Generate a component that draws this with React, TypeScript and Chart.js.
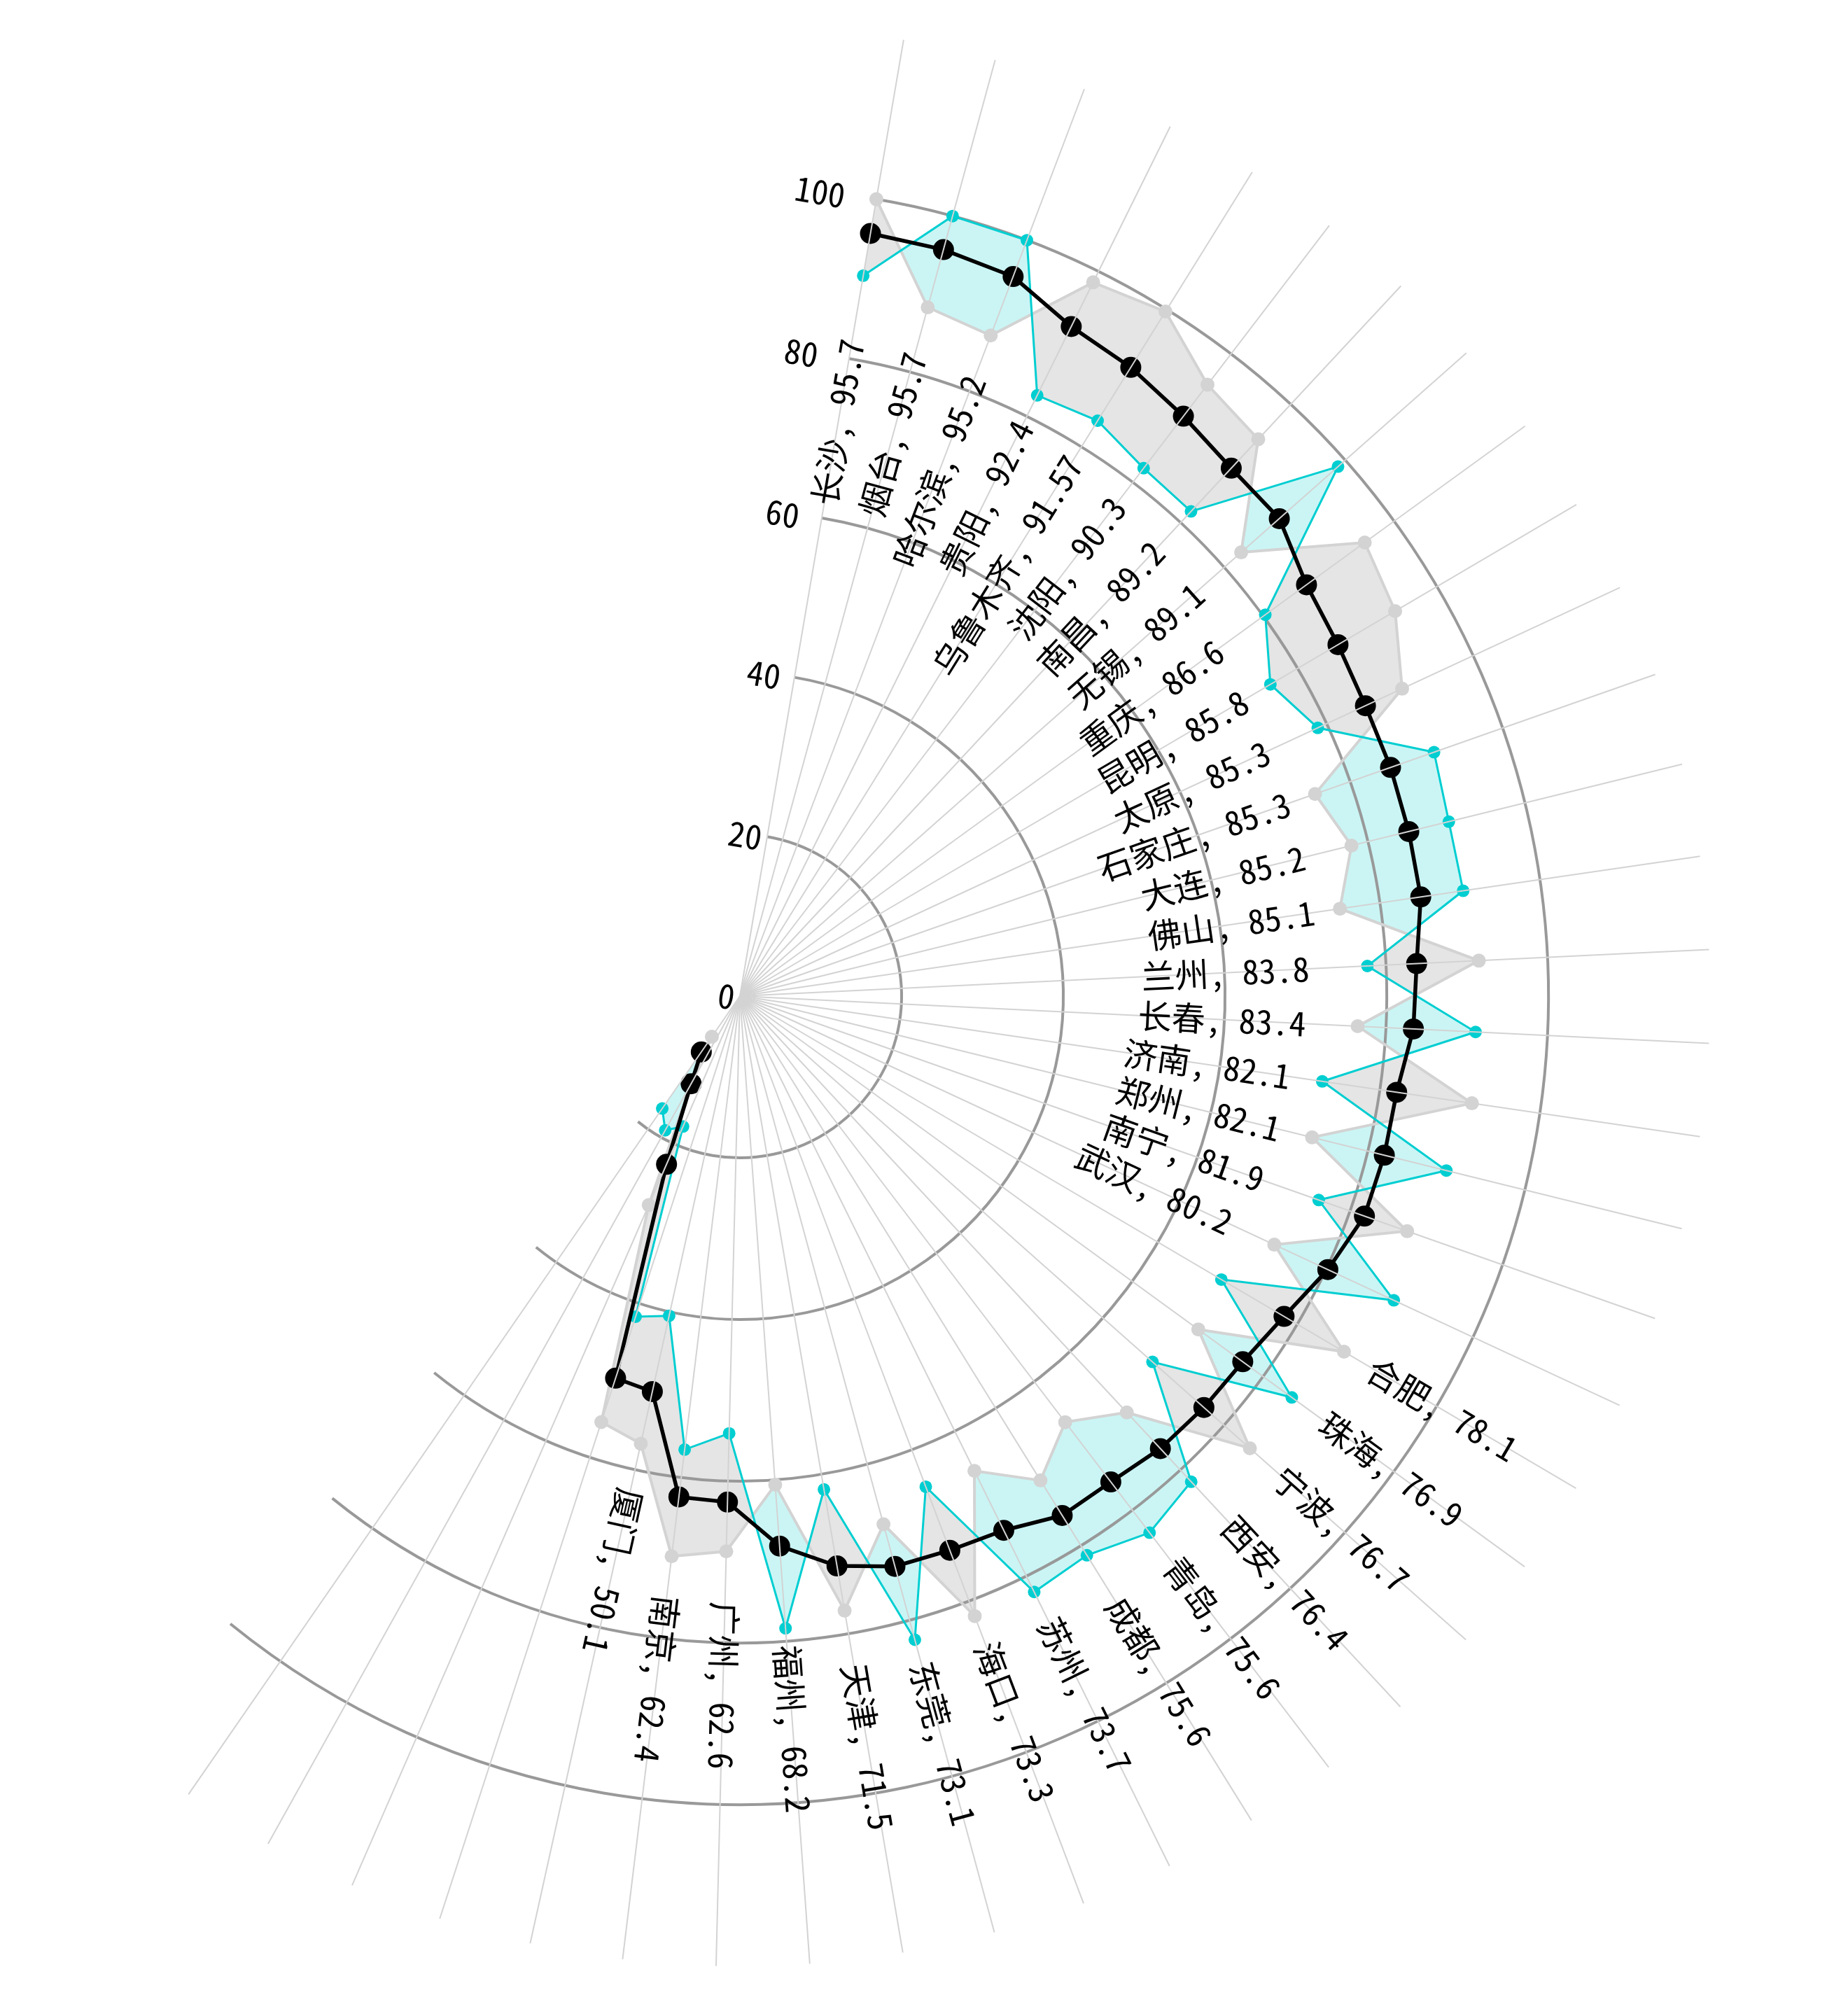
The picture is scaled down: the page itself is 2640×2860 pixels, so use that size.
import React, { useEffect, useRef } from 'react';
import { Chart, registerables } from 'chart.js';

Chart.register(...registerables);

// ---------- data ----------
const cities = [
  '长沙', '烟台', '哈尔滨', '贵阳', '乌鲁木齐', '沈阳', '南昌', '无锡', '重庆', '昆明',
  '太原', '石家庄', '大连', '佛山', '兰州', '长春', '济南', '郑州', '南宁', '武汉',
  '合肥', '珠海', '宁波', '西安', '青岛', '成都', '苏州', '海口', '东莞', '天津',
  '福州', '广州', '南京', '厦门',
];
// four trailing spokes carry points but no name
const unnamed = ['', '', '', ''];

const mainValues = [
  95.7, 95.7, 95.2, 92.4, 91.57, 90.3, 89.2, 89.1, 86.6, 85.8,
  85.3, 85.3, 85.2, 85.1, 83.8, 83.4, 82.1, 82.1, 81.9, 80.2,
  78.1, 76.9, 76.7, 76.4, 75.6, 75.6, 73.7, 73.3, 73.1, 71.5,
  68.2, 62.6, 62.4, 50.1, 49.7, 22.7, 12.4, 8.4,
];
const grayValues = [
  100, 88.3, 87.4, 98.5, 99.7, 95.2, 94.1, 82.8, 95.5, 94.0,
  90.3, 75.4, 77.9, 75.0, 91.5, 76.5, 91.5, 72.9, 87.5, 72.9,
  86.7, 70.1, 84.3, 70.3, 66.3, 70.5, 65.5, 82.0, 67.7, 77.1,
  60.6, 68.7, 69.8, 56.7, 55.4, 28.2, 12.5, 6.1,
];
const cyanValues = [
  90.4, 100, 100, 82.9, 83.8, 82.2, 81.9, 98.8, 80.3, 76.1,
  78.8, 91.0, 90.3, 90.4, 77.7, 91.1, 72.8, 90.0, 75.9, 89.2,
  69.1, 84.4, 68.2, 82.0, 83.5, 81.4, 82.2, 64.9, 82.5, 61.9,
  78.4, 54.1, 56.5, 40.5, 41.7, 17.6, 19.0, 16.9,
];
const radialTicks = [0, 20, 40, 60, 80, 100];

// ---------- layout / style ----------
const SLOT_COUNT = 65; // angular slots of the full circle
const START_ANGLE = 9.715; // degrees, clockwise from top
const ARC_STEPS = 37.8; // arcs span this many slots
const INNER_LABEL_COUNT = 20; // first labels sit inside the line
const GAP_IN = 13.3;
const GAP_OUT = 12.3;
const FONT = '"Noto Sans Mono CJK SC", "Noto Sans CJK SC", sans-serif';
const SIZE = 2772;

const MAIN = 0;
const CYAN = 1;
const GRAY = 2;

const pointCount = cities.length + unnamed.length;
const allLabels = [...cities, ...unnamed];
const slotLabels = [...allLabels, ...Array(SLOT_COUNT - allLabels.length).fill('')];
const pad = (arr: number[]) => [...arr, ...Array(SLOT_COUNT - arr.length).fill(null)];

const fillPlugin = {
  id: 'sectorFill',
  beforeDatasetsDraw(chart: any) {
    const scale = chart.scales.r;
    const ctx = chart.ctx;
    const cx = scale.xCenter;
    const cy = scale.yCenter;
    const gPts = chart.getDatasetMeta(GRAY).data.slice(0, pointCount);
    const cPts = chart.getDatasetMeta(CYAN).data.slice(0, pointCount);
    const star = (pts: any[]) => {
      const p = new Path2D();
      p.moveTo(cx, cy);
      pts.forEach((pt) => p.lineTo(pt.x, pt.y));
      p.closePath();
      return p;
    };
    const outside = (pts: any[]) => {
      const p = new Path2D();
      p.rect(-10, -10, chart.width + 20, chart.height + 20);
      p.moveTo(cx, cy);
      pts.forEach((pt) => p.lineTo(pt.x, pt.y));
      p.closePath();
      return p;
    };
    // area where the cyan series lies beyond the gray one
    ctx.save();
    ctx.clip(star(cPts));
    ctx.clip(outside(gPts), 'evenodd');
    ctx.fillStyle = '#cbf5f5';
    ctx.fillRect(0, 0, chart.width, chart.height);
    ctx.restore();

    // area where the gray series lies beyond the cyan one
    ctx.save();
    ctx.clip(star(gPts));
    ctx.clip(outside(cPts), 'evenodd');
    ctx.fillStyle = '#e5e5e5';
    ctx.fillRect(0, 0, chart.width, chart.height);
    ctx.restore();

    // partial circular grid
    const a0 = scale.getIndexAngle(0);
    const step = (Math.PI * 2) / SLOT_COUNT;
    const a1 = a0 + ARC_STEPS * step;
    ctx.save();
    ctx.strokeStyle = '#999999';
    ctx.lineWidth = 4;
    radialTicks.forEach((v) => {
      if (v <= 0) return;
      const r = scale.getDistanceFromCenterForValue(v);
      ctx.beginPath();
      ctx.arc(cx, cy, r, a0 - Math.PI / 2, a1 - Math.PI / 2);
      ctx.stroke();
    });
    ctx.restore();
  },
};

const labelPlugin = {
  id: 'sectorLabels',
  afterDraw(chart: any) {
    const scale = chart.scales.r;
    const ctx = chart.ctx;
    const cx = scale.xCenter;
    const cy = scale.yCenter;
    ctx.save();
    ctx.fillStyle = '#000';
    ctx.font = `48px ${FONT}`;
    ctx.textBaseline = 'middle';
    cities.forEach((name, i) => {
      const v = mainValues[i];
      const inner = i < INNER_LABEL_COUNT;
      const r = scale.getDistanceFromCenterForValue(inner ? v - GAP_IN : v + GAP_OUT);
      const a = scale.getIndexAngle(i);
      const x = cx + Math.sin(a) * r;
      const y = cy - Math.cos(a) * r;
      ctx.save();
      ctx.translate(x, y);
      ctx.rotate(a - Math.PI / 2);
      ctx.textAlign = inner ? 'right' : 'left';
      ctx.fillText(`${name}, ${v}`, 0, 0);
      ctx.restore();
    });

    // radial tick labels, rotated with the first spoke
    const a0 = scale.getIndexAngle(0);
    const ux = Math.sin(a0);
    const uy = -Math.cos(a0);
    const tx = Math.cos(a0);
    const ty = Math.sin(a0);
    ctx.textAlign = 'center';
    radialTicks.forEach((v) => {
      const r = scale.getDistanceFromCenterForValue(v) - 3;
      const shift = 19 + 0.62 * v;
      const x = cx + ux * r - tx * shift;
      const y = cy + uy * r - ty * shift;
      ctx.save();
      ctx.translate(x, y);
      ctx.rotate(a0);
      ctx.fillText(String(v), 0, 0);
      ctx.restore();
    });
    ctx.restore();
  },
};

export default function App() {
  const ref = useRef<HTMLCanvasElement | null>(null);
  useEffect(() => {
    if (!ref.current) return;
    const chart = new Chart(ref.current, {
      type: 'radar',
      data: {
        labels: slotLabels,
        datasets: [
          {
            label: 'main',
            data: pad(mainValues),
            borderColor: '#000000',
            backgroundColor: '#000000',
            borderWidth: 5.5,
            pointRadius: 15,
            pointBackgroundColor: '#000000',
            pointBorderWidth: 0,
            fill: false,
            tension: 0,
          },
          {
            label: 'cyan',
            data: pad(cyanValues),
            borderColor: '#00ced1',
            backgroundColor: '#00ced1',
            borderWidth: 3,
            pointRadius: 9,
            pointBackgroundColor: '#00ced1',
            pointBorderWidth: 0,
            fill: false,
            tension: 0,
          },
          {
            label: 'gray',
            data: pad(grayValues),
            borderColor: '#d3d3d3',
            backgroundColor: '#d3d3d3',
            borderWidth: 4,
            pointRadius: 10,
            pointBackgroundColor: '#d3d3d3',
            pointBorderWidth: 0,
            fill: false,
            tension: 0,
          },
        ],
      },
      options: {
        responsive: false,
        animation: false,
        events: [],
        layout: { padding: 0 },
        plugins: {
          legend: { display: false },
          tooltip: { enabled: false },
        },
        scales: {
          r: {
            min: 0,
            max: 120,
            startAngle: START_ANGLE,
            ticks: { display: false, stepSize: 20 },
            grid: { display: false, z: 1 },
            angleLines: {
              display: true,
              color: (c: any) => (c.index < pointCount ? '#d3d3d3' : 'rgba(0,0,0,0)'),
              lineWidth: (c: any) => (c.index < pointCount ? 2 : 0),
            },
            pointLabels: { display: false },
          },
        },
      },
      plugins: [fillPlugin, labelPlugin],
    } as any);
    return () => chart.destroy();
  }, []);

  return (
    <div style={{ marginLeft: -337, marginTop: 29, width: SIZE, height: SIZE }}>
      <canvas ref={ref} width={SIZE} height={SIZE} style={{ display: 'block' }} />
    </div>
  );
}
